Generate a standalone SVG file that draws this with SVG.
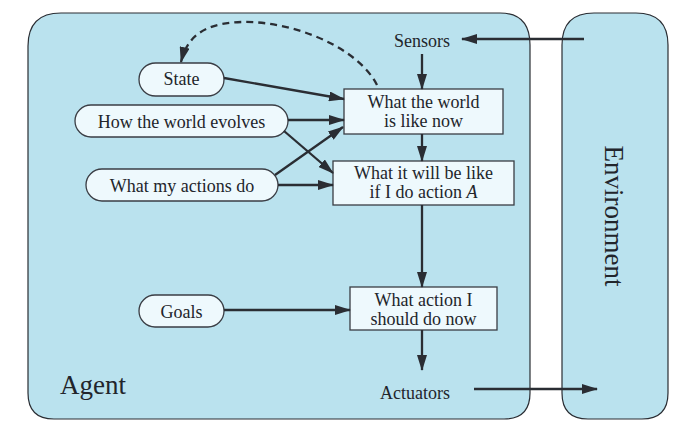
<svg xmlns="http://www.w3.org/2000/svg" width="686" height="430" viewBox="0 0 686 430">
<defs>
<marker id="ah" viewBox="0 0 16 10" refX="15" refY="5" markerWidth="16" markerHeight="10" markerUnits="userSpaceOnUse" orient="auto">
<path d="M0,0 L16,5 L0,10 z" fill="#2a2d33"/>
</marker>
</defs>
<style>
.panel{fill:#bae2ee;stroke:#2a2d33;stroke-width:1.2}
.box{fill:#eef9fd;stroke:#3a3d44;stroke-width:1.3}
.t{font-size:18px;fill:#22252b;text-anchor:middle}
.c{fill:none;stroke:#2a2d33;stroke-width:2.3;marker-end:url(#ah)}
.d{fill:none;stroke:#2a2d33;stroke-width:2.3;stroke-dasharray:7,5;marker-end:url(#ah)}
</style>
<rect width="686" height="430" fill="#ffffff"/>
<g font-family="'Liberation Serif', 'DejaVu Serif', serif">
<g id="agent">
<path class="panel" d="M61,13 H500 Q530,13 530,45 V393 Q530,419 504,419 H54 Q28,419 28,393 V46 Q28,13 61,13 Z"/>
<text class="t" x="60" y="394" style="font-size:27px;text-anchor:start">Agent</text>
</g>
<g id="environment">
<path class="panel" d="M594,13 H636 Q668,13 668,45 V393 Q668,419 642,419 H588 Q562,419 562,393 V45 Q562,13 594,13 Z"/>
<text class="t" transform="translate(605,216) rotate(90)" style="font-size:27px">Environment</text>
</g>
<g id="sensors"><text class="t" x="422" y="47">Sensors</text></g>
<g id="actuators"><text class="t" x="415" y="399">Actuators</text></g>
<g id="state">
<rect class="box" x="139" y="63" width="85" height="33" rx="16.5"/>
<text class="t" x="181.5" y="85">State</text>
</g>
<g id="how-world-evolves">
<rect class="box" x="75" y="105" width="213" height="32" rx="16"/>
<text class="t" x="181.5" y="128">How the world evolves</text>
</g>
<g id="what-my-actions-do">
<rect class="box" x="86" y="169" width="192" height="32" rx="16"/>
<text class="t" x="182" y="192">What my actions do</text>
</g>
<g id="goals">
<rect class="box" x="139" y="295" width="85" height="32" rx="16"/>
<text class="t" x="181.5" y="318">Goals</text>
</g>
<g id="world-now">
<rect class="box" x="344" y="89" width="159" height="45"/>
<text class="t" x="423.5" y="108">What the world</text>
<text class="t" x="423.5" y="127">is like now</text>
</g>
<g id="world-if">
<rect class="box" x="333" y="161" width="181" height="44"/>
<text class="t" x="423.5" y="179">What it will be like</text>
<text class="t" x="423.5" y="198">if I do action <tspan font-style="italic">A</tspan></text>
</g>
<g id="action">
<rect class="box" x="350" y="287" width="147" height="43"/>
<text class="t" x="423.5" y="306">What action I</text>
<text class="t" x="423.5" y="325">should do now</text>
</g>
</g>
<g id="connectors">
<path class="c" d="M584,39 H462"/>
<path class="c" d="M422,54 V89"/>
<path class="c" d="M422,134 V161"/>
<path class="c" d="M422,205 V287"/>
<path class="c" d="M422,330 V370"/>
<path class="c" d="M474,389 H597"/>
<path class="c" d="M224,78 L344,99"/>
<path class="c" d="M288,120 H344"/>
<path class="c" d="M284,131 L333,173"/>
<path class="c" d="M278,185 H333"/>
<path class="c" d="M275,175 L343,127"/>
<path class="c" d="M224,310 H350"/>
<path class="d" d="M377,85 C355,42 275,14 222,24 C197,29 186,42 181,62"/>
</g>
</svg>
